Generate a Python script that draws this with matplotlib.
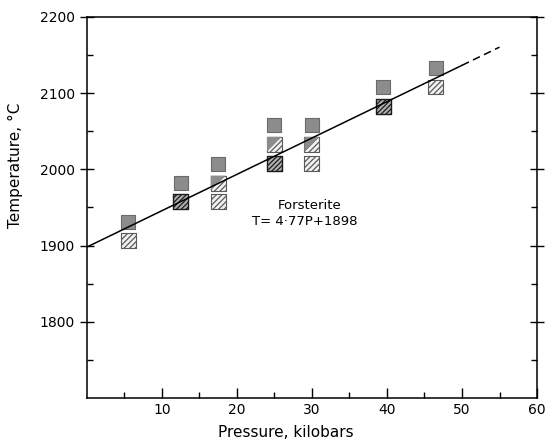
import matplotlib
matplotlib.use("Agg")
import matplotlib.pyplot as plt
import numpy as np

# Forsterite melting data (P in kbar, T in deg C)
gray_p = [5.5, 12.5, 17.5, 25, 30, 39.5, 46.5]
gray_t = [1931, 1982, 2007, 2058, 2058, 2108, 2133]
half_p = [17.5, 25, 30]
half_t = [1982, 2033, 2033]
dark_p = [12.5, 25, 39.5]
dark_t = [1958, 2008, 2083]
light_p = [5.5, 17.5, 30, 46.5]
light_t = [1907, 1958, 2008, 2108]

# fitted curve T = 4.77P + 1898
slope, intercept = 4.77, 1898
p_solid = [0, 50]
p_dash = [50, 55]

x_ticks = [10, 20, 30, 40, 50, 60]
y_ticks = [1800, 1900, 2000, 2100, 2200]

plt.rcParams['font.family'] = 'DejaVu Sans'
plt.rcParams['hatch.linewidth'] = 0.9

fig = plt.figure(figsize=(5.6, 4.4), dpi=100)
ax = fig.add_axes([0.155, 0.0955, 0.804, 0.866])

ms = 115
ax.scatter(gray_p, gray_t, s=ms, marker='s', facecolor='#8c8c8c',
           edgecolor='#6a6a6a', linewidth=0.8, zorder=3)
ax.scatter(light_p, light_t, s=ms, marker='s', facecolor='#f2f2f2',
           edgecolor='#5a5a5a', hatch='//////', linewidth=0.8, zorder=3)
ax.scatter(dark_p, dark_t, s=ms, marker='s', facecolor='#b0b0b0',
           edgecolor='#1a1a1a', hatch='///////', linewidth=1.0, zorder=3)
# half squares: hatched square with a gray upper-left triangle
ax.scatter(half_p, half_t, s=ms, marker='s', facecolor='#f2f2f2',
           edgecolor='#5a5a5a', hatch='//////', linewidth=0.8, zorder=3)
tri = [(-1, -1), (-1, 1), (1, 1), (-1, -1)]
ax.scatter(half_p, half_t, s=ms, marker=tri, facecolor='#8c8c8c',
           edgecolor='none', zorder=4)

ps = np.array(p_solid)
ax.plot(ps, slope * ps + intercept, color='black', lw=1.1, zorder=5)
pd_ = np.array(p_dash)
ax.plot(pd_, slope * pd_ + intercept, color='black', lw=1.1,
        dashes=(5, 3), zorder=5)

ax.text(29.7, 1953, 'Forsterite', ha='center', va='center', fontsize=9.5)
ax.text(29.1, 1931, 'T= 4·77P+1898', ha='center', va='center', fontsize=9.5)

ax.set_xlim(0, 60)
ax.set_ylim(1700, 2200)
ax.set_xticks(x_ticks)
ax.set_xticks(np.arange(5, 60, 5), minor=True)
ax.set_yticks(y_ticks)
ax.set_yticks(np.arange(1750, 2200, 50), minor=True)
ax.tick_params(axis='both', which='major', direction='in', length=7,
               width=1, labelsize=10, right=True)
ax.tick_params(axis='both', which='minor', direction='in', length=4,
               width=1, right=True)
ax.tick_params(axis='y', which='major', direction='inout', length=10)
for s in ax.spines.values():
    s.set_linewidth(1.1)

ax.set_xlabel('Pressure, kilobars', fontsize=11)
ax.set_ylabel('Temperature, °C', fontsize=11)
ax.xaxis.set_label_coords(0.442, -0.07)
ax.yaxis.set_label_coords(-0.142, 0.61)

fig.savefig('out.png', dpi=100)
